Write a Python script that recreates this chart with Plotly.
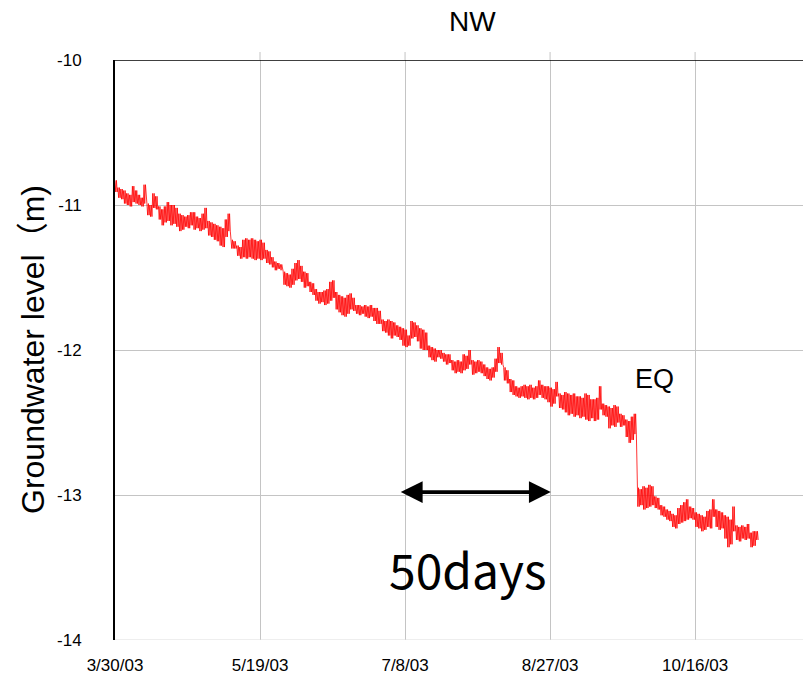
import plotly.graph_objects as go
import pandas as pd

start_date = "2003-03-30"

# daily high / low groundwater level (m), one pair per day from 3/30/03
daily_high = [
    -10.83, -10.88, -10.89, -10.90, -10.92, -10.93, -10.87, -10.90, -10.93, -10.95,
    -10.86, -10.99, -11.00, -10.92, -10.94, -11.01, -11.03, -11.01, -10.98, -11.00,
    -11.00, -11.02, -11.06, -11.07, -11.08, -11.07, -11.05, -11.05, -11.08, -11.09,
    -11.06, -11.02, -11.11, -11.12, -11.13, -11.14, -11.15, -11.16, -11.10, -11.06,
    -11.24, -11.25, -11.28, -11.29, -11.24, -11.23, -11.24, -11.23, -11.24, -11.25,
    -11.24, -11.26, -11.31, -11.32, -11.36, -11.39, -11.40, -11.41, -11.46, -11.47,
    -11.48, -11.44, -11.40, -11.38, -11.42, -11.46, -11.47, -11.53, -11.54, -11.58,
    -11.60, -11.60, -11.59, -11.58, -11.53, -11.52, -11.60, -11.62, -11.63, -11.64,
    -11.62, -11.61, -11.64, -11.69, -11.69, -11.70, -11.69, -11.70, -11.69, -11.71,
    -11.71, -11.73, -11.79, -11.80, -11.79, -11.80, -11.81, -11.83, -11.84, -11.85,
    -11.86, -11.90, -11.80, -11.81, -11.83, -11.85, -11.86, -11.88, -11.97, -11.98,
    -11.99, -12.00, -12.00, -12.02, -12.03, -12.03, -12.07, -12.08, -12.07, -12.08,
    -12.03, -12.04, -12.00, -12.07, -12.08, -12.07, -12.08, -12.10, -12.12, -12.13,
    -12.12, -12.06, -11.98, -12.02, -12.12, -12.14, -12.20, -12.21, -12.25, -12.26,
    -12.25, -12.24, -12.25, -12.24, -12.26, -12.25, -12.21, -12.24, -12.25, -12.25,
    -12.26, -12.27, -12.22, -12.30, -12.31, -12.29, -12.30, -12.31, -12.30, -12.32,
    -12.32, -12.33, -12.30, -12.31, -12.34, -12.34, -12.33, -12.25, -12.37, -12.38,
    -12.39, -12.40, -12.38, -12.39, -12.44, -12.45, -12.48, -12.49, -12.46, -12.44,
    -12.95, -12.96, -12.94, -12.95, -12.93, -12.94, -13.01, -13.02, -13.07, -13.08,
    -13.10, -13.11, -13.13, -13.14, -13.09, -13.07, -13.05, -13.03, -13.08, -13.09,
    -13.12, -13.13, -13.14, -13.15, -13.11, -13.10, -13.03, -13.10, -13.11, -13.12,
    -13.14, -13.15, -13.17, -13.08, -13.21, -13.22, -13.21, -13.22, -13.20, -13.26,
    -13.25, -13.25,
]
daily_low = [
    -10.91, -10.95, -10.96, -10.99, -11.00, -11.01, -10.98, -10.99, -11.00, -11.01,
    -10.99, -11.07, -11.08, -11.02, -11.03, -11.10, -11.14, -11.12, -11.11, -11.14,
    -11.13, -11.15, -11.18, -11.17, -11.15, -11.16, -11.14, -11.17, -11.16, -11.18,
    -11.17, -11.16, -11.21, -11.22, -11.24, -11.25, -11.28, -11.29, -11.22, -11.18,
    -11.30, -11.30, -11.35, -11.37, -11.36, -11.37, -11.36, -11.37, -11.38, -11.37,
    -11.38, -11.37, -11.40, -11.41, -11.43, -11.45, -11.44, -11.45, -11.55, -11.56,
    -11.57, -11.55, -11.52, -11.51, -11.53, -11.57, -11.56, -11.60, -11.62, -11.66,
    -11.68, -11.67, -11.69, -11.68, -11.66, -11.64, -11.72, -11.74, -11.76, -11.77,
    -11.75, -11.72, -11.73, -11.75, -11.76, -11.75, -11.77, -11.78, -11.77, -11.80,
    -11.82, -11.82, -11.87, -11.88, -11.90, -11.92, -11.90, -11.91, -11.93, -11.97,
    -11.98, -11.97, -11.92, -11.91, -11.94, -11.99, -12.00, -12.00, -12.05, -12.07,
    -12.08, -12.05, -12.06, -12.08, -12.10, -12.09, -12.14, -12.16, -12.15, -12.16,
    -12.14, -12.13, -12.10, -12.17, -12.16, -12.15, -12.16, -12.18, -12.20, -12.21,
    -12.19, -12.15, -12.09, -12.10, -12.21, -12.23, -12.29, -12.31, -12.32, -12.33,
    -12.32, -12.33, -12.34, -12.33, -12.34, -12.33, -12.31, -12.33, -12.34, -12.36,
    -12.39, -12.37, -12.32, -12.40, -12.41, -12.43, -12.45, -12.44, -12.46, -12.45,
    -12.47, -12.46, -12.48, -12.49, -12.47, -12.49, -12.48, -12.41, -12.45, -12.46,
    -12.54, -12.52, -12.53, -12.50, -12.53, -12.52, -12.60, -12.64, -12.62, -12.58,
    -13.08, -13.07, -13.10, -13.09, -13.08, -13.07, -13.09, -13.10, -13.14, -13.15,
    -13.17, -13.18, -13.22, -13.23, -13.20, -13.19, -13.18, -13.17, -13.16, -13.17,
    -13.22, -13.23, -13.25, -13.24, -13.22, -13.23, -13.15, -13.22, -13.24, -13.23,
    -13.30, -13.36, -13.34, -13.25, -13.31, -13.32, -13.30, -13.31, -13.30, -13.36,
    -13.35, -13.31,
]

tick_dates = ["2003-03-30", "2003-05-19", "2003-07-08", "2003-08-27", "2003-10-16"]
tick_labels = ["3/30/03", "5/19/03", "7/8/03", "8/27/03", "10/16/03"]
y_ticks = [-10, -11, -12, -13, -14]
y_tick_labels = ["-10", "-11", "-12", "-13", "-14"]

# semi-diurnal sampling: each day's high and low, twice a day
days = pd.date_range(start_date, periods=len(daily_high), freq="D")
xs, ys = [], []
for d, h, l in zip(days, daily_high, daily_low):
    for k, v in enumerate([h, l, h, l]):
        xs.append(d + pd.Timedelta(hours=6 * k))
        ys.append(v)

FONT = "Arial, Liberation Sans, sans-serif"
GRID = "#c4c4c4"

fig = go.Figure()
fig.add_trace(go.Scatter(x=xs, y=ys, mode="lines",
                         line=dict(color="#ff0000", width=0.8),
                         hoverinfo="skip", showlegend=False))

shapes = [
    dict(type="line", xref="paper", yref="y", x0=0, x1=1, y0=-10, y1=-10,
         line=dict(color="black", width=1.5)),
    dict(type="line", xref="paper", yref="y", x0=0, x1=1, y0=-14, y1=-14,
         line=dict(color="#dddddd", width=1)),
]
for t in tick_dates[1:]:
    shapes.append(dict(type="line", xref="x", yref="paper", x0=t, x1=t,
                       y0=1, y1=1 + 8 / 580, line=dict(color=GRID, width=1)))

annotations = [
    dict(text="NW", xref="paper", yref="paper", x=(472 - 115) / 688, y=1 + 38 / 580,
         showarrow=False, font=dict(family=FONT, size=28, color="black"),
         xanchor="center", yanchor="middle"),
    dict(text="Groundwater level（m)", xref="paper", yref="paper",
         x=(33 - 115) / 688, y=0.5, textangle=-90, showarrow=False,
         font=dict(family=FONT + ", Noto Sans CJK JP", size=32, color="black"),
         xanchor="center", yanchor="middle"),
    dict(text="EQ", xref="x", yref="y", x="2003-10-01 20:00", y=-12.20,
         showarrow=False, font=dict(family=FONT, size=27, color="black"),
         xanchor="center", yanchor="middle"),
    dict(text="50days", xref="x", yref="y", x="2003-07-29 17:00", y=-13.50,
         showarrow=False, font=dict(family="Noto Sans CJK JP", size=48, color="black"),
         xanchor="center", yanchor="middle"),
    dict(text="", xref="x", yref="y", axref="x", ayref="y",
         x="2003-08-27 06:00", y=-12.98, ax="2003-07-06 00:00", ay=-12.98,
         showarrow=True, arrowside="end+start", arrowhead=2, arrowsize=1.15,
         arrowwidth=3.8, arrowcolor="black"),
]

fig.update_layout(
    width=803, height=689,
    margin=dict(l=115, r=0, t=60, b=49),
    paper_bgcolor="white", plot_bgcolor="white",
    font=dict(family=FONT, color="black"),
    xaxis=dict(type="date", range=["2003-03-30", "2003-11-22 04:48"],
               tickvals=tick_dates, ticktext=tick_labels,
               showgrid=True, gridcolor=GRID, gridwidth=1,
               showline=False, zeroline=False, ticks="",
               tickfont=dict(family=FONT, size=17, color="black"),
               ticklabelstandoff=13),
    yaxis=dict(range=[-14, -10], tickvals=y_ticks, ticktext=y_tick_labels,
               showgrid=True, gridcolor=GRID, gridwidth=1,
               showline=True, linecolor="black", linewidth=2,
               zeroline=False, ticks="",
               tickfont=dict(family=FONT, size=17, color="black"),
               ticklabelstandoff=28),
    shapes=shapes,
    annotations=annotations,
)

fig.write_html("out.html")
